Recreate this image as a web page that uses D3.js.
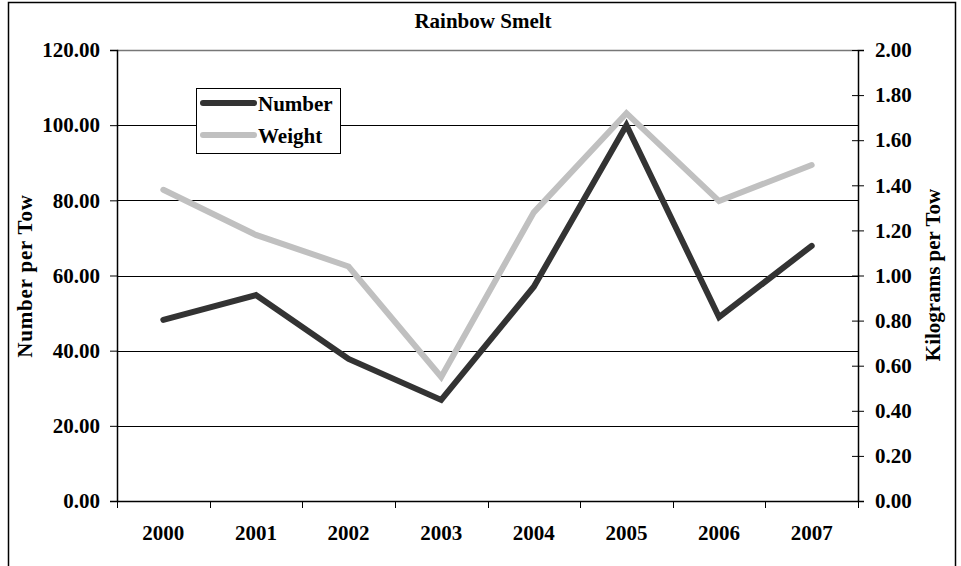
<!DOCTYPE html>
<html><head><meta charset="utf-8">
<script src="https://cdn.jsdelivr.net/npm/d3@7"></script>
<style>
body{margin:0;background:#fff}
svg{display:block}
</style>
</head><body>
<svg id="c" width="961" height="566"></svg>
<script>
const years = ["2000","2001","2002","2003","2004","2005","2006","2007"];
const numberPerTow = [48.2, 54.8, 37.8, 26.9, 57.0, 100.0, 48.9, 67.9];
const kgPerTow = [1.38, 1.18, 1.04, 0.55, 1.28, 1.72, 1.33, 1.49];
const leftTicks = [0, 20, 40, 60, 80, 100, 120];
const rightTicks = [0, 0.2, 0.4, 0.6, 0.8, 1.0, 1.2, 1.4, 1.6, 1.8, 2.0];
const seriesNames = ["Number", "Weight"];
const seriesColors = ["#333333", "#c0c0c0"];
const titleText = "Rainbow Smelt";
const leftTitle = "Number per Tow";
const rightTitle = "Kilograms per Tow";

const FONT = "'Liberation Serif', 'Times New Roman', 'DejaVu Serif', serif";
const svg = d3.select("#c").style("font-family", FONT).style("font-weight", "bold");
const L = 117, R = 858, T = 50, B = 501;
const FS = 21;
const styleText = sel => sel.style("font-family", FONT).style("font-weight", "bold")
  .style("font-size", FS + "px").attr("fill", "#000");

// outer frame
svg.append("rect").attr("x", 8.5).attr("y", 2.5).attr("width", 947).attr("height", 600)
  .attr("fill", "#fff").attr("stroke", "#000").attr("stroke-width", 1.5);

const x = d3.scaleBand().domain(years).range([L, R]).padding(0);
const yL = d3.scaleLinear().domain([0, 120]).range([B, T]);
const yR = d3.scaleLinear().domain([0, 2]).range([B, T]);
const cx = d => x(d) + x.bandwidth() / 2;

// gridlines
svg.append("g").selectAll("line").data(leftTicks.filter(t => t > 0)).join("line")
  .attr("x1", L).attr("x2", R)
  .attr("y1", d => Math.round(yL(d)) + 0.5).attr("y2", d => Math.round(yL(d)) + 0.5)
  .attr("stroke", d => d === 120 ? "#777" : "#000").attr("stroke-width", d => d === 120 ? 1.5 : 1);

// left axis
const gL = svg.append("g").attr("transform", `translate(${L},0)`)
  .call(d3.axisLeft(yL).tickValues(leftTicks).tickFormat(d3.format(".2f")).tickSize(7).tickPadding(10));
gL.attr("font-family", null).attr("font-size", null);
gL.select(".domain").attr("stroke-width", 1.5);
gL.selectAll("text").call(styleText);

// right axis
const gR = svg.append("g").attr("transform", `translate(${R},0)`)
  .call(d3.axisRight(yR).tickValues(rightTicks).tickFormat(d3.format(".2f")).tickSize(6).tickPadding(11));
gR.attr("font-family", null).attr("font-size", null);
gR.selectAll(".tick line").attr("x1", -6);
gR.select(".domain").attr("stroke-width", 1.5);
gR.selectAll("text").call(styleText);

// bottom axis
const gB = svg.append("g");
gB.append("line").attr("x1", L).attr("x2", R).attr("y1", B + 0.5).attr("y2", B + 0.5)
  .attr("stroke", "#000").attr("stroke-width", 1.5);
const bounds = years.map(y => x(y)).concat([x.range()[1]]);
gB.selectAll(".xt").data(bounds).join("line").attr("class", "xt")
  .attr("x1", d => Math.round(d) + 0.5).attr("x2", d => Math.round(d) + 0.5)
  .attr("y1", B).attr("y2", B + 7).attr("stroke", "#000");
gB.selectAll(".xl").data(years).join("text").attr("class", "xl")
  .attr("x", d => cx(d)).attr("y", 540).attr("text-anchor", "middle")
  .call(styleText).text(d => d);

// lines
const lineN = d3.line().x((d, i) => cx(years[i])).y(d => yL(d));
const lineW = d3.line().x((d, i) => cx(years[i])).y(d => yR(d));
svg.append("path").datum(kgPerTow).attr("d", lineW).attr("fill", "none")
  .attr("stroke", seriesColors[1]).attr("stroke-width", 6)
  .attr("stroke-linejoin", "miter").attr("stroke-linecap", "round");
svg.append("path").datum(numberPerTow).attr("d", lineN).attr("fill", "none")
  .attr("stroke", seriesColors[0]).attr("stroke-width", 6)
  .attr("stroke-linejoin", "miter").attr("stroke-linecap", "round");

// title
svg.append("text").attr("x", 483).attr("y", 28).attr("text-anchor", "middle")
  .call(styleText).text(titleText);

// axis titles
svg.append("text").attr("transform", "translate(32,276) rotate(-90)").attr("text-anchor", "middle")
  .call(styleText).style("letter-spacing", "0.8px").text(leftTitle);
svg.append("text").attr("transform", "translate(940,275) rotate(-90)").attr("text-anchor", "middle")
  .call(styleText).text(rightTitle);

// legend
const lg = svg.append("g");
lg.append("rect").attr("x", 196.5).attr("y", 88.5).attr("width", 144).attr("height", 65)
  .attr("fill", "#fff").attr("stroke", "#000").attr("stroke-width", 1);
const legY = [103, 135];
seriesNames.forEach((n, i) => {
  lg.append("line").attr("x1", 203).attr("x2", 254).attr("y1", legY[i]).attr("y2", legY[i])
    .attr("stroke", seriesColors[i]).attr("stroke-width", 6).attr("stroke-linecap", "round");
  lg.append("text").attr("x", 258).attr("y", legY[i] + 8).call(styleText).text(n);
});
</script>
</body></html>
